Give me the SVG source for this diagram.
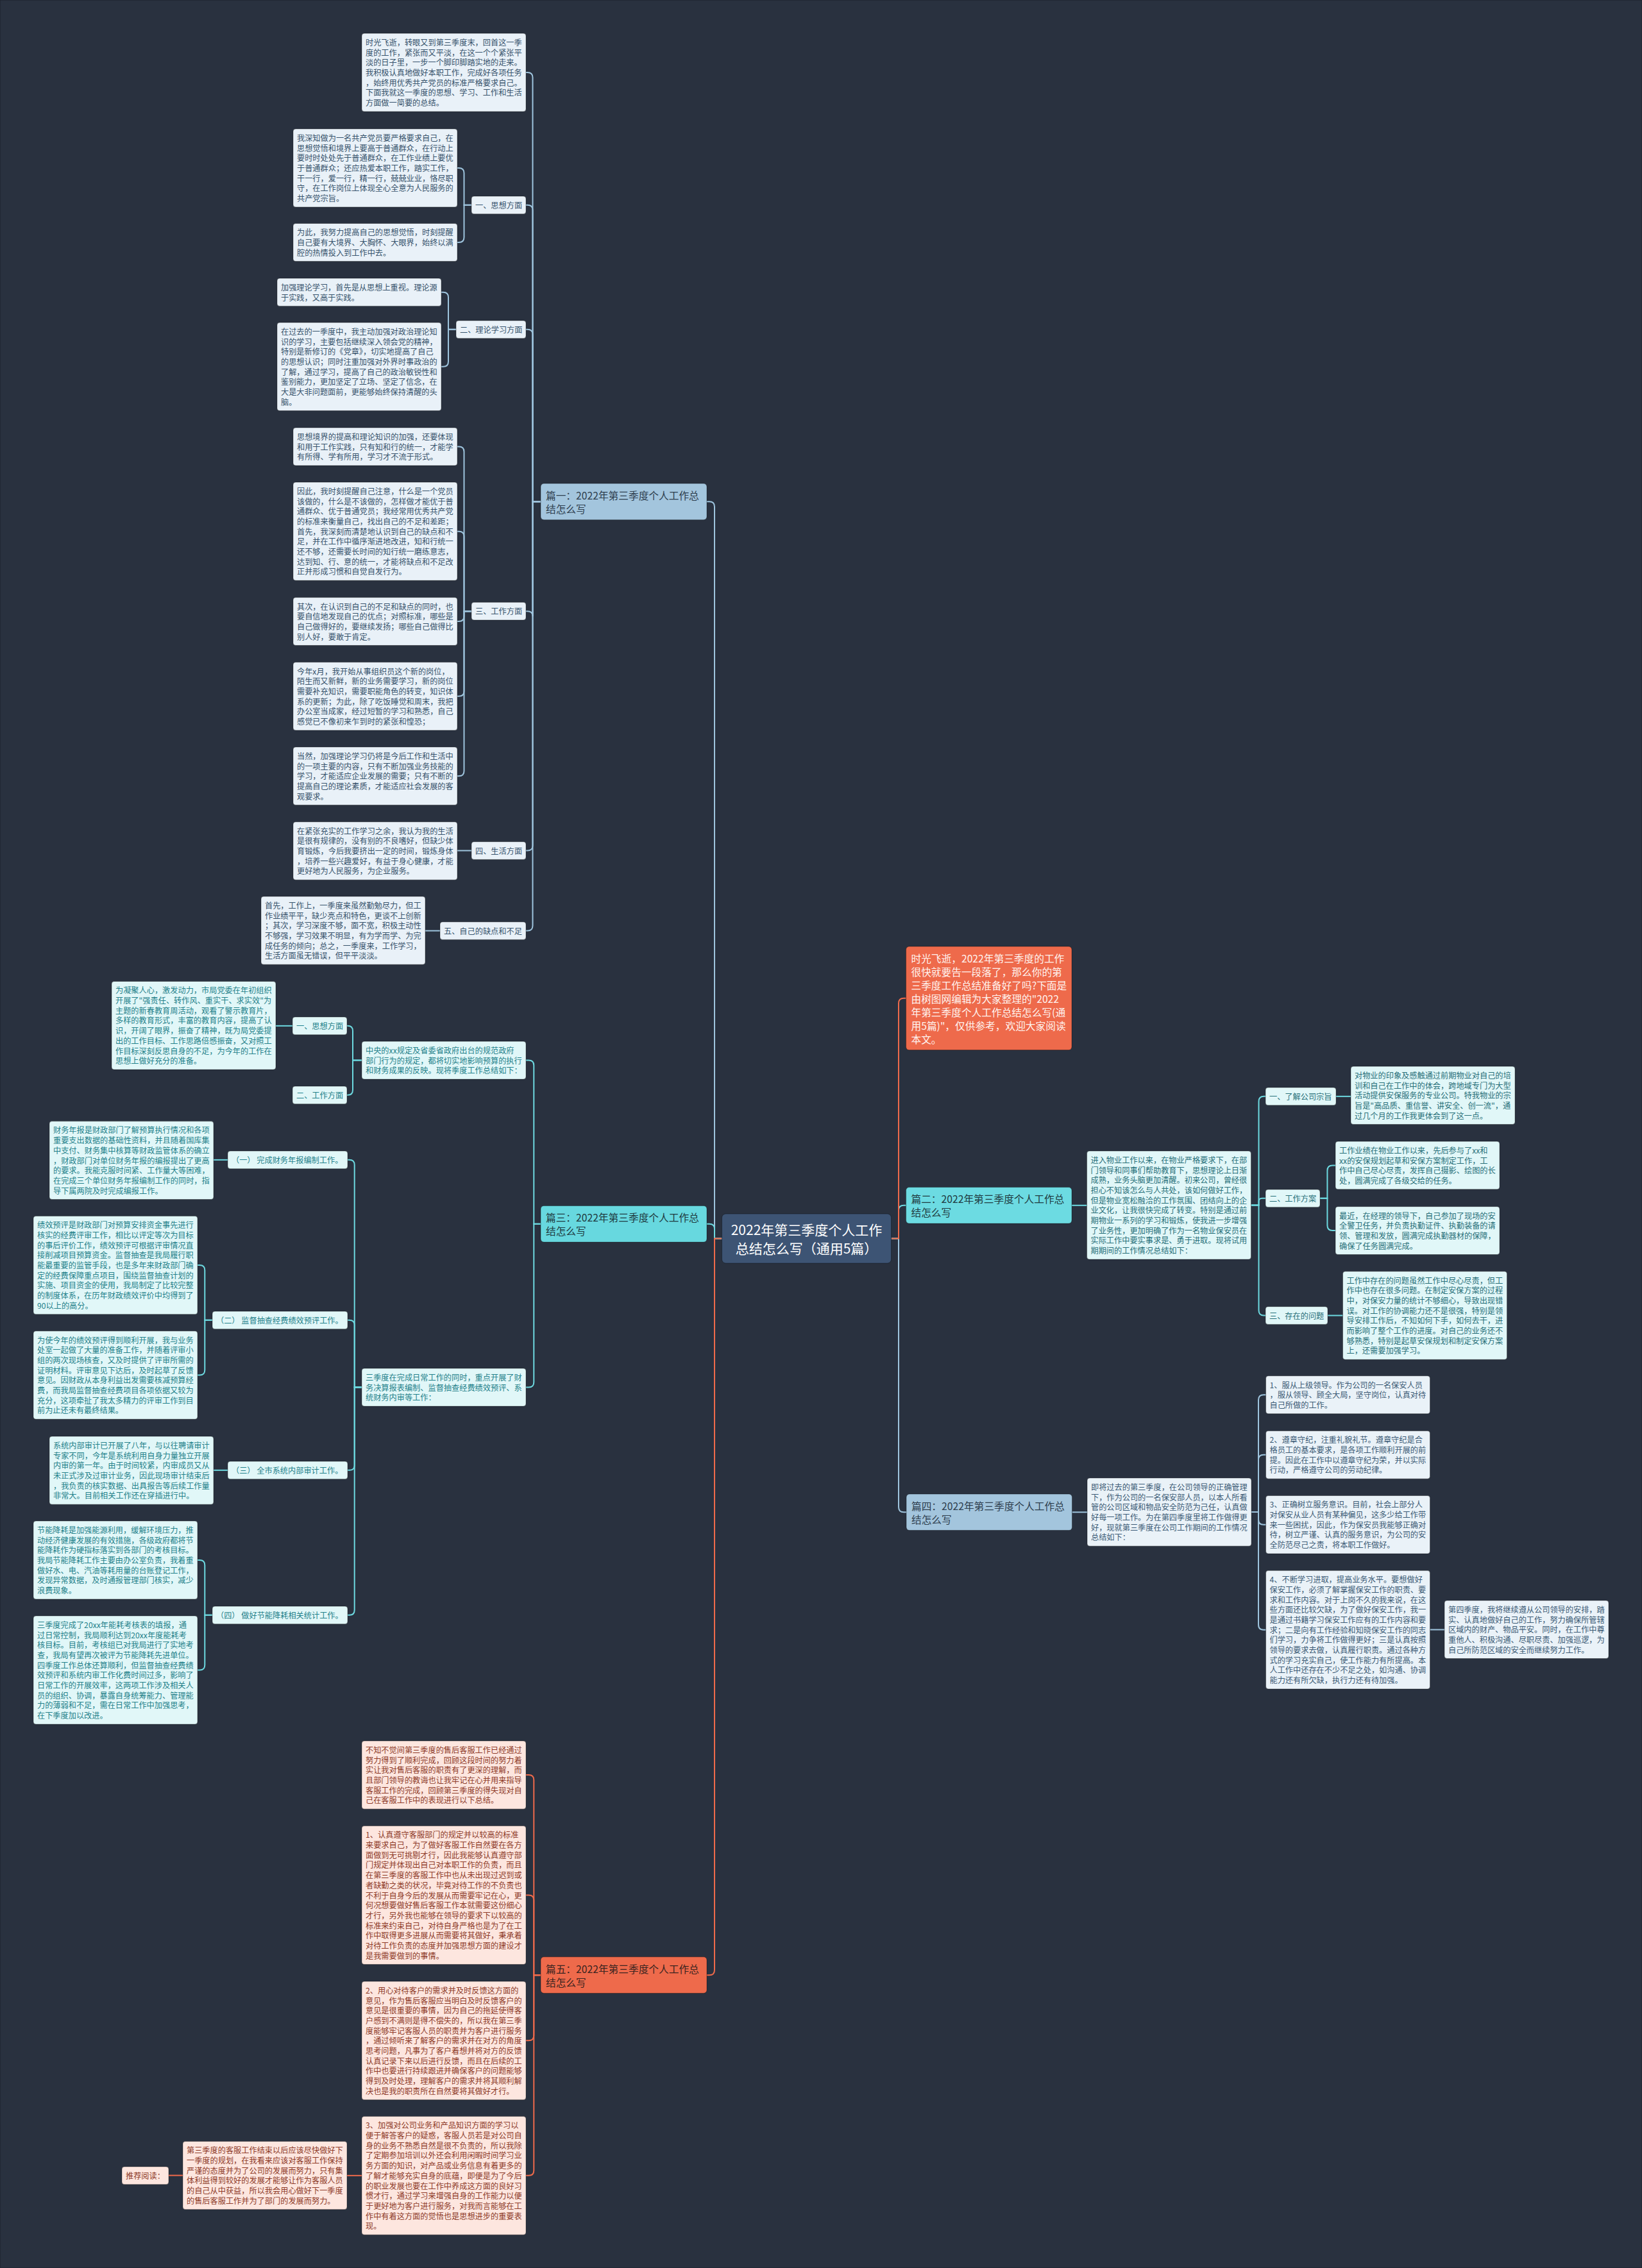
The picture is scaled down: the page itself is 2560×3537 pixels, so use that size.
<svg xmlns="http://www.w3.org/2000/svg" width="2560" height="3537" viewBox="0 0 2560 3537">
<style>
text{font-family:"Noto Sans CJK SC","Liberation Sans",sans-serif;dominant-baseline:central}
.s{font-size:12.2px}
.m{font-size:15.7px}
rect{stroke:rgba(0,0,0,0.35);stroke-width:1}
.b1 rect{fill:#e9f1f8}.b1 text{fill:#36526b}
.b3 rect{fill:#e1f7f8}.b3 text{fill:#23818a}
.b2 rect{fill:#e1f7f8}.b2 text{fill:#276f78}
.b4 rect{fill:#eaf2f8}.b4 text{fill:#3b5a75}
.b5 rect{fill:#fde6df}.b5 text{fill:#8e3a28}
.k{fill:none;stroke-width:2}
.k1{stroke:#9ec4dd}.k3{stroke:#6dd9e0}.k5{stroke:#ee6a4b}
</style>
<rect x="0" y="0" width="2560" height="3537" fill="#29313f" stroke="none"/>

<g id="connectors">
<g class="k k1">
<path d="M1125.5 1931.5 H1114 V790.35 Q1114 782.35 1106 782.35 H1102"/>
<path d="M843 782.35 H830.5 V121 Q830.5 113 822.5 113 H820"/>
<path d="M843 782.35 H830.5 V327.85 Q830.5 319.85 822.5 319.85 H820"/>
<path d="M843 782.35 H830.5 V521.85 Q830.5 513.85 822.5 513.85 H820"/>
<path d="M843 782.35 H830.5 V961.15 Q830.5 953.15 822.5 953.15 H820"/>
<path d="M843 782.35 H830.5 V1318.55 Q830.5 1326.55 822.5 1326.55 H820"/>
<path d="M843 782.35 H830.5 V1443.55 Q830.5 1451.55 822.5 1451.55 H820"/>
<path d="M735 319.85 H723.5 V269.95 Q723.5 261.95 715.5 261.95 H713"/>
<path d="M735 319.85 H723.5 V370.05 Q723.5 378.05 715.5 378.05 H713"/>
<path d="M711 513.85 H699 V463.7 Q699 455.7 691 455.7 H688"/>
<path d="M711 513.85 H699 V563.8 Q699 571.8 691 571.8 H688"/>
<path d="M735 953.15 H723.5 V704.55 Q723.5 696.55 715.5 696.55 H713"/>
<path d="M735 953.15 H723.5 V836.65 Q723.5 828.65 715.5 828.65 H713"/>
<path d="M735 953.15 H723.5 V961.1 Q723.5 969.1 715.5 969.1 H713"/>
<path d="M735 953.15 H723.5 V1077.8 Q723.5 1085.8 715.5 1085.8 H713"/>
<path d="M735 953.15 H723.5 V1202.25 Q723.5 1210.25 715.5 1210.25 H713"/>
<path d="M735 1326.55 H713"/>
<path d="M686 1451.55 H663"/>
<path d="M1389.6 1931.5 H1401 V2350.3 Q1401 2358.3 1409 2358.3 H1413"/>
<path d="M1671.5 2358.3 H1695"/>
<path d="M1951 2358.1 H1962 V2183.25 Q1962 2175.25 1970 2175.25 H1973.5"/>
<path d="M1951 2358.1 H1962 V2276.8 Q1962 2268.8 1970 2268.8 H1973.5"/>
<path d="M1951 2358.1 H1962 V2369.75 Q1962 2377.75 1970 2377.75 H1973.5"/>
<path d="M1951 2358.1 H1962 V2533.65 Q1962 2541.65 1970 2541.65 H1973.5"/>
<path d="M2229.5 2541.5 H2252"/>
</g>
<g class="k k3">
<path d="M1125.5 1931.5 H1114 V1916.75 Q1114 1908.75 1106 1908.75 H1102"/>
<path d="M843 1908.75 H832.3 V1661.55 Q832.3 1653.55 824.3 1653.55 H820"/>
<path d="M843 1908.75 H832.3 V2155.55 Q832.3 2163.55 824.3 2163.55 H820"/>
<path d="M564 1653.55 H550 V1607.85 Q550 1599.85 542 1599.85 H541"/>
<path d="M564 1653.55 H550 V1699.85 Q550 1707.85 542 1707.85 H541"/>
<path d="M456 1599.85 H430"/>
<path d="M564 2163.55 H552.7 V1816.85 Q552.7 1808.85 544.7 1808.85 H542"/>
<path d="M564 2163.55 H552.7 V2066.85 Q552.7 2058.85 544.7 2058.85 H542"/>
<path d="M564 2163.55 H552.7 V2284.85 Q552.7 2292.85 544.7 2292.85 H542"/>
<path d="M564 2163.55 H552.7 V2510.85 Q552.7 2518.85 544.7 2518.85 H542"/>
<path d="M355 1808.85 H333"/>
<path d="M331 2058.85 H319.3 V1981.05 Q319.3 1973.05 311.3 1973.05 H308"/>
<path d="M331 2058.85 H319.3 V2136.5 Q319.3 2144.5 311.3 2144.5 H308"/>
<path d="M355 2292.85 H333"/>
<path d="M331 2518.85 H319.3 V2440.95 Q319.3 2432.95 311.3 2432.95 H308"/>
<path d="M331 2518.85 H319.3 V2596.5 Q319.3 2604.5 311.3 2604.5 H308"/>
<path d="M1389.6 1931.5 H1401 V1887.8 Q1401 1879.8 1409 1879.8 H1412.5"/>
<path d="M1671 1879.8 H1694.5"/>
<path d="M1950.5 1879.5 H1962.5 V1717.85 Q1962.5 1709.85 1970.5 1709.85 H1973"/>
<path d="M1950.5 1879.5 H1962.5 V1873.85 Q1962.5 1868.85 1967.5 1868.85 H1973"/>
<path d="M1950.5 1879.5 H1962.5 V2043.55 Q1962.5 2051.55 1970.5 2051.55 H1973"/>
<path d="M2083 1709.85 H2106"/>
<path d="M2058 1868.85 H2069.4 V1825.4 Q2069.4 1817.4 2077.4 1817.4 H2082"/>
<path d="M2058 1868.85 H2069.4 V1911.1 Q2069.4 1919.1 2077.4 1919.1 H2082"/>
<path d="M2070 2051.55 H2093.5"/>
</g>
<g class="k k5">
<path d="M1125.5 1931.5 H1114 V3072.15 Q1114 3080.15 1106 3080.15 H1102"/>
<path d="M843 3080.15 H832.3 V2776.1 Q832.3 2768.1 824.3 2768.1 H820"/>
<path d="M843 3080.15 H832.3 V2963.55 Q832.3 2955.55 824.3 2955.55 H820"/>
<path d="M843 3080.15 H832.3 V3174.35 Q832.3 3182.35 824.3 3182.35 H820"/>
<path d="M843 3080.15 H832.3 V3384.85 Q832.3 3392.85 824.3 3392.85 H820"/>
<path d="M564 3392.85 H541"/>
<path d="M285 3392.6 H263"/>
<path d="M1389.6 1931.5 H1401 V1564.8 Q1401 1556.8 1409 1556.8 H1412.5"/>
</g>
</g>

<g id="root"><rect x="1125.5" y="1893" width="264" height="77" rx="6" fill="#3d5474"/><text x="1257.5" y="1917" font-size="21" fill="#ffffff" text-anchor="middle"><tspan>2022年第三季度个人工作</tspan><tspan x="1257.5" dy="29">总结怎么写（通用5篇）</tspan></text></g>

<g id="intro"><rect x="1412.5" y="1476" width="258.5" height="161.6" rx="5" fill="#ee6a4b"/><text class="m" x="1420.5" y="1493.8" fill="#fff4f0"><tspan>时光飞逝，2022年第三季度的工作</tspan><tspan x="1420.5" dy="21">很快就要告一段落了，那么你的第</tspan><tspan x="1420.5" dy="21">三季度工作总结准备好了吗?下面是</tspan><tspan x="1420.5" dy="21">由树图网编辑为大家整理的"2022</tspan><tspan x="1420.5" dy="21">年第三季度个人工作总结怎么写(通</tspan><tspan x="1420.5" dy="21">用5篇)"，仅供参考，欢迎大家阅读</tspan><tspan x="1420.5" dy="21">本文。</tspan></text></g>

<g id="p1"><rect x="843" y="754" width="259" height="56.7" rx="5" fill="#a3c5dd"/><text class="m" x="851" y="771.85" fill="#2e3e4e"><tspan>篇一：2022年第三季度个人工作总</tspan><tspan x="851" dy="21">结怎么写</tspan></text></g>
<g id="p2"><rect x="1412.5" y="1851.5" width="258.5" height="56.6" rx="5" fill="#6cdbe2"/><text class="m" x="1420.5" y="1869.3" fill="#1f3a40"><tspan>篇二：2022年第三季度个人工作总</tspan><tspan x="1420.5" dy="21">结怎么写</tspan></text></g>
<g id="p3"><rect x="843" y="1880.4" width="259" height="56.7" rx="5" fill="#67d8df"/><text class="m" x="851" y="1898.2" fill="#1f3a40"><tspan>篇三：2022年第三季度个人工作总</tspan><tspan x="851" dy="21">结怎么写</tspan></text></g>
<g id="p4"><rect x="1413" y="2330" width="258.5" height="56.6" rx="5" fill="#a3c5dd"/><text class="m" x="1421" y="2347.8" fill="#2e3e4e"><tspan>篇四：2022年第三季度个人工作总</tspan><tspan x="1421" dy="21">结怎么写</tspan></text></g>
<g id="p5"><rect x="843" y="3051.8" width="259" height="56.7" rx="5" fill="#ee6a4b"/><text class="m" x="851" y="3069.6" fill="#3a2420"><tspan>篇五：2022年第三季度个人工作总</tspan><tspan x="851" dy="21">结怎么写</tspan></text></g>

<g class="b1">
<g id="a1"><rect x="564" y="52" width="256" height="121.9" rx="4"/><text class="s" x="570" y="65.85"><tspan>时光飞逝，转眼又到第三季度末，回首这一季</tspan><tspan x="570" dy="15.7">度的工作，紧张而又平淡，在这一个个紧张平</tspan><tspan x="570" dy="15.7">淡的日子里，一步一个脚印脚踏实地的走来。</tspan><tspan x="570" dy="15.7">我积极认真地做好本职工作，完成好各项任务</tspan><tspan x="570" dy="15.7">，始终用优秀共产党员的标准严格要求自己。</tspan><tspan x="570" dy="15.7">下面我就这一季度的思想、学习、工作和生活</tspan><tspan x="570" dy="15.7">方面做一简要的总结。</tspan></text></g>
<g id="l1"><rect x="735" y="306" width="85" height="27.7" rx="4"/><text class="s" x="741" y="319.85">一、思想方面</text></g>
<g id="b1n"><rect x="457" y="201" width="256" height="121.9" rx="4"/><text class="s" x="463" y="214.85"><tspan>我深知做为一名共产党员要严格要求自己，在</tspan><tspan x="463" dy="15.7">思想觉悟和境界上要高于普通群众，在行动上</tspan><tspan x="463" dy="15.7">要时时处处先于普通群众，在工作业绩上要优</tspan><tspan x="463" dy="15.7">于普通群众；还应热爱本职工作，踏实工作，</tspan><tspan x="463" dy="15.7">干一行，爱一行，精一行，兢兢业业，恪尽职</tspan><tspan x="463" dy="15.7">守，在工作岗位上体现全心全意为人民服务的</tspan><tspan x="463" dy="15.7">共产党宗旨。</tspan></text></g>
<g id="c1n"><rect x="457" y="348.5" width="256" height="59.1" rx="4"/><text class="s" x="463" y="362.35"><tspan>为此，我努力提高自己的思想觉悟，时刻提醒</tspan><tspan x="463" dy="15.7">自己要有大境界、大胸怀、大眼界，始终以满</tspan><tspan x="463" dy="15.7">腔的热情投入到工作中去。</tspan></text></g>
<g id="d1n"><rect x="432" y="434" width="256" height="43.4" rx="4"/><text class="s" x="438" y="447.85"><tspan>加强理论学习，首先是从思想上重视。理论源</tspan><tspan x="438" dy="15.7">于实践，又高于实践。</tspan></text></g>
<g id="l2"><rect x="711" y="500" width="109" height="27.7" rx="4"/><text class="s" x="717" y="513.85">二、理论学习方面</text></g>
<g id="e1n"><rect x="432" y="503" width="256" height="137.6" rx="4"/><text class="s" x="438" y="516.85"><tspan>在过去的一季度中，我主动加强对政治理论知</tspan><tspan x="438" dy="15.7">识的学习，主要包括继续深入领会党的精神，</tspan><tspan x="438" dy="15.7">特别是新修订的《党章》，切实地提高了自己</tspan><tspan x="438" dy="15.7">的思想认识；同时注重加强对外界时事政治的</tspan><tspan x="438" dy="15.7">了解，通过学习，提高了自己的政治敏锐性和</tspan><tspan x="438" dy="15.7">鉴别能力，更加坚定了立场、坚定了信念，在</tspan><tspan x="438" dy="15.7">大是大非问题面前，更能够始终保持清醒的头</tspan><tspan x="438" dy="15.7">脑。</tspan></text></g>
<g id="f1n"><rect x="457" y="667" width="256" height="59.1" rx="4"/><text class="s" x="463" y="680.85"><tspan>思想境界的提高和理论知识的加强，还要体现</tspan><tspan x="463" dy="15.7">和用于工作实践，只有知和行的统一，才能学</tspan><tspan x="463" dy="15.7">有所得、学有所用，学习才不流于形式。</tspan></text></g>
<g id="g1n"><rect x="457" y="752" width="256" height="153.3" rx="4"/><text class="s" x="463" y="765.85"><tspan>因此，我时刻提醒自己注意，什么是一个党员</tspan><tspan x="463" dy="15.7">该做的，什么是不该做的，怎样做才能优于普</tspan><tspan x="463" dy="15.7">通群众、优于普通党员；我经常用优秀共产党</tspan><tspan x="463" dy="15.7">的标准来衡量自己，找出自己的不足和差距；</tspan><tspan x="463" dy="15.7">首先，我深刻而清楚地认识到自己的缺点和不</tspan><tspan x="463" dy="15.7">足，并在工作中循序渐进地改进，知和行统一</tspan><tspan x="463" dy="15.7">还不够，还需要长时间的知行统一磨练意志，</tspan><tspan x="463" dy="15.7">达到知、行、意的统一，才能将缺点和不足改</tspan><tspan x="463" dy="15.7">正并形成习惯和自觉自发行为。</tspan></text></g>
<g id="l3"><rect x="735" y="939.3" width="85" height="27.7" rx="4"/><text class="s" x="741" y="953.15">三、工作方面</text></g>
<g id="h1n"><rect x="457" y="931.7" width="256" height="74.8" rx="4"/><text class="s" x="463" y="945.55"><tspan>其次，在认识到自己的不足和缺点的同时，也</tspan><tspan x="463" dy="15.7">要自信地发现自己的优点；对照标准，哪些是</tspan><tspan x="463" dy="15.7">自己做得好的，要继续发扬；哪些自己做得比</tspan><tspan x="463" dy="15.7">别人好，要敢于肯定。</tspan></text></g>
<g id="i1n"><rect x="457" y="1032.7" width="256" height="106.2" rx="4"/><text class="s" x="463" y="1046.55"><tspan>今年x月，我开始从事组织员这个新的岗位，</tspan><tspan x="463" dy="15.7">陌生而又新鲜，新的业务需要学习，新的岗位</tspan><tspan x="463" dy="15.7">需要补充知识，需要职能角色的转变，知识体</tspan><tspan x="463" dy="15.7">系的更新；为此，除了吃饭睡觉和周末，我把</tspan><tspan x="463" dy="15.7">办公室当成家，经过短暂的学习和熟悉，自己</tspan><tspan x="463" dy="15.7">感觉已不像初来乍到时的紧张和惶恐；</tspan></text></g>
<g id="j1n"><rect x="457" y="1165" width="256" height="90.5" rx="4"/><text class="s" x="463" y="1178.85"><tspan>当然，加强理论学习仍将是今后工作和生活中</tspan><tspan x="463" dy="15.7">的一项主要的内容，只有不断加强业务技能的</tspan><tspan x="463" dy="15.7">学习，才能适应企业发展的需要；只有不断的</tspan><tspan x="463" dy="15.7">提高自己的理论素质，才能适应社会发展的客</tspan><tspan x="463" dy="15.7">观要求。</tspan></text></g>
<g id="l4"><rect x="735" y="1312.7" width="85" height="27.7" rx="4"/><text class="s" x="741" y="1326.55">四、生活方面</text></g>
<g id="k1n"><rect x="457" y="1281.7" width="256" height="90.5" rx="4"/><text class="s" x="463" y="1295.55"><tspan>在紧张充实的工作学习之余，我认为我的生活</tspan><tspan x="463" dy="15.7">是很有规律的，没有别的不良嗜好，但缺少体</tspan><tspan x="463" dy="15.7">育锻炼，今后我要挤出一定的时间，锻炼身体</tspan><tspan x="463" dy="15.7">，培养一些兴趣爱好，有益于身心健康，才能</tspan><tspan x="463" dy="15.7">更好地为人民服务，为企业服务。</tspan></text></g>
<g id="l5"><rect x="686" y="1437.7" width="134" height="27.7" rx="4"/><text class="s" x="692" y="1451.55">五、自己的缺点和不足</text></g>
<g id="m1n"><rect x="407" y="1398" width="256" height="106.2" rx="4"/><text class="s" x="413" y="1411.85"><tspan>首先，工作上，一季度来虽然勤勉尽力，但工</tspan><tspan x="413" dy="15.7">作业绩平平，缺少亮点和特色，更谈不上创新</tspan><tspan x="413" dy="15.7">；其次，学习深度不够，面不宽，积极主动性</tspan><tspan x="413" dy="15.7">不够强，学习效果不明显，有为学而学、为完</tspan><tspan x="413" dy="15.7">成任务的倾向；总之，一季度来，工作学习，</tspan><tspan x="413" dy="15.7">生活方面虽无错误，但平平淡淡。</tspan></text></g>
</g>

<g class="b3">
<g id="n3"><rect x="564" y="1624" width="256" height="59.1" rx="4"/><text class="s" x="570" y="1637.85"><tspan>中央的xx规定及省委省政府出台的规范政府</tspan><tspan x="570" dy="15.7">部门行为的规定，都将切实地影响预算的执行</tspan><tspan x="570" dy="15.7">和财务成果的反映。现将季度工作总结如下：</tspan></text></g>
<g id="q3"><rect x="564" y="2134" width="256" height="59.1" rx="4"/><text class="s" x="570" y="2147.85"><tspan>三季度在完成日常工作的同时，重点开展了财</tspan><tspan x="570" dy="15.7">务决算报表编制、监督抽查经费绩效预评、系</tspan><tspan x="570" dy="15.7">统财务内审等工作：</tspan></text></g>
<g id="m3l"><rect x="456" y="1586" width="85" height="27.7" rx="4"/><text class="s" x="462" y="1599.85">一、思想方面</text></g>
<g id="m3"><rect x="174" y="1530.5" width="256" height="137.6" rx="4"/><text class="s" x="180" y="1544.35"><tspan>为凝聚人心，激发动力，市局党委在年初组织</tspan><tspan x="180" dy="15.7">开展了"强责任、转作风、重实干、求实效"为</tspan><tspan x="180" dy="15.7">主题的新春教育周活动，观看了警示教育片，</tspan><tspan x="180" dy="15.7">多样的教育形式，丰富的教育内容，提高了认</tspan><tspan x="180" dy="15.7">识，开阔了眼界，振奋了精神，既为局党委提</tspan><tspan x="180" dy="15.7">出的工作目标、工作思路倍感振奋，又对照工</tspan><tspan x="180" dy="15.7">作目标深刻反思自身的不足，为今年的工作在</tspan><tspan x="180" dy="15.7">思想上做好充分的准备。</tspan></text></g>
<g id="m4l"><rect x="456" y="1694" width="85" height="27.7" rx="4"/><text class="s" x="462" y="1707.85">二、工作方面</text></g>
<g id="y1"><rect x="355" y="1795" width="187" height="27.7" rx="4"/><text class="s" x="361" y="1808.85">（一） 完成财务年报编制工作。</text></g>
<g id="fin1"><rect x="77" y="1748.6" width="256" height="121.9" rx="4"/><text class="s" x="83" y="1762.45"><tspan>财务年报是财政部门了解预算执行情况和各项</tspan><tspan x="83" dy="15.7">重要支出数据的基础性资料，并且随着国库集</tspan><tspan x="83" dy="15.7">中支付、财务集中核算等财政监管体系的确立</tspan><tspan x="83" dy="15.7">，财政部门对单位财务年报的编报提出了更高</tspan><tspan x="83" dy="15.7">的要求。我能克服时间紧、工作量大等困难，</tspan><tspan x="83" dy="15.7">在完成三个单位财务年报编制工作的同时，指</tspan><tspan x="83" dy="15.7">导下属两院及时完成编报工作。</tspan></text></g>
<g id="y2"><rect x="331" y="2045" width="211" height="27.7" rx="4"/><text class="s" x="337" y="2058.85">（二） 监督抽查经费绩效预评工作。</text></g>
<g id="fin2"><rect x="52" y="1896.4" width="256" height="153.3" rx="4"/><text class="s" x="58" y="1910.25"><tspan>绩效预评是财政部门对预算安排资金事先进行</tspan><tspan x="58" dy="15.7">核实的经费评审工作，相比以评定等次为目标</tspan><tspan x="58" dy="15.7">的事后评价工作，绩效预评可根据评审情况直</tspan><tspan x="58" dy="15.7">接削减项目预算资金。监督抽查是我局履行职</tspan><tspan x="58" dy="15.7">能最重要的监管手段，也是多年来财政部门确</tspan><tspan x="58" dy="15.7">定的经费保障重点项目，围绕监督抽查计划的</tspan><tspan x="58" dy="15.7">实施、项目资金的使用，我局制定了比较完整</tspan><tspan x="58" dy="15.7">的制度体系，在历年财政绩效评价中均得到了</tspan><tspan x="58" dy="15.7">90以上的高分。</tspan></text></g>
<g id="fin3"><rect x="52" y="2075.7" width="256" height="137.6" rx="4"/><text class="s" x="58" y="2089.55"><tspan>为使今年的绩效预评得到顺利开展，我与业务</tspan><tspan x="58" dy="15.7">处室一起做了大量的准备工作，并随着评审小</tspan><tspan x="58" dy="15.7">组的两次现场核查，又及时提供了评审所需的</tspan><tspan x="58" dy="15.7">证明材料。评审意见下达后，及时起草了反馈</tspan><tspan x="58" dy="15.7">意见。因财政从本身利益出发需要核减预算经</tspan><tspan x="58" dy="15.7">费，而我局监督抽查经费项目各项依据又较为</tspan><tspan x="58" dy="15.7">充分，这项牵扯了我太多精力的评审工作到目</tspan><tspan x="58" dy="15.7">前为止还未有最终结果。</tspan></text></g>
<g id="y3"><rect x="355" y="2279" width="187" height="27.7" rx="4"/><text class="s" x="361" y="2292.85">（三） 全市系统内部审计工作。</text></g>
<g id="fin4"><rect x="77" y="2240" width="256" height="106.2" rx="4"/><text class="s" x="83" y="2253.85"><tspan>系统内部审计已开展了八年，与以往聘请审计</tspan><tspan x="83" dy="15.7">专家不同，今年是系统利用自身力量独立开展</tspan><tspan x="83" dy="15.7">内审的第一年。由于时间较紧，内审成员又从</tspan><tspan x="83" dy="15.7">未正式涉及过审计业务，因此现场审计结束后</tspan><tspan x="83" dy="15.7">，我负责的核实数据、出具报告等后续工作量</tspan><tspan x="83" dy="15.7">非常大。目前相关工作还在穿插进行中。</tspan></text></g>
<g id="y4"><rect x="331" y="2505" width="211" height="27.7" rx="4"/><text class="s" x="337" y="2518.85">（四） 做好节能降耗相关统计工作。</text></g>
<g id="fin5"><rect x="52" y="2372" width="256" height="121.9" rx="4"/><text class="s" x="58" y="2385.85"><tspan>节能降耗是加强能源利用，缓解环境压力，推</tspan><tspan x="58" dy="15.7">动经济健康发展的有效措施，各级政府都将节</tspan><tspan x="58" dy="15.7">能降耗作为硬指标落实到各部门的考核目标。</tspan><tspan x="58" dy="15.7">我局节能降耗工作主要由办公室负责，我着重</tspan><tspan x="58" dy="15.7">做好水、电、汽油等耗用量的台账登记工作，</tspan><tspan x="58" dy="15.7">发现异常数据，及时通报管理部门核实，减少</tspan><tspan x="58" dy="15.7">浪费现象。</tspan></text></g>
<g id="fin6"><rect x="52" y="2520" width="256" height="169" rx="4"/><text class="s" x="58" y="2533.85"><tspan>三季度完成了20xx年能耗考核表的填报，通</tspan><tspan x="58" dy="15.7">过日常控制，我局顺利达到20xx年度能耗考</tspan><tspan x="58" dy="15.7">核目标。目前，考核组已对我局进行了实地考</tspan><tspan x="58" dy="15.7">查，我局有望再次被评为节能降耗先进单位。</tspan><tspan x="58" dy="15.7">四季度工作总体还算顺利，但监督抽查经费绩</tspan><tspan x="58" dy="15.7">效预评和系统内审工作化费时间过多，影响了</tspan><tspan x="58" dy="15.7">日常工作的开展效率，这两项工作涉及相关人</tspan><tspan x="58" dy="15.7">员的组织、协调，暴露自身统筹能力、管理能</tspan><tspan x="58" dy="15.7">力的薄弱和不足，需在日常工作中加强思考，</tspan><tspan x="58" dy="15.7">在下季度加以改进。</tspan></text></g>
</g>

<g class="b5">
<g id="r1"><rect x="564" y="2715" width="256" height="106.2" rx="4"/><text class="s" x="570" y="2728.85"><tspan>不知不觉间第三季度的售后客服工作已经通过</tspan><tspan x="570" dy="15.7">努力得到了顺利完成，回顾这段时间的努力着</tspan><tspan x="570" dy="15.7">实让我对售后客服的职责有了更深的理解，而</tspan><tspan x="570" dy="15.7">且部门领导的教诲也让我牢记在心并用来指导</tspan><tspan x="570" dy="15.7">客服工作的完成，回顾第三季度的得失现对自</tspan><tspan x="570" dy="15.7">己在客服工作中的表现进行以下总结。</tspan></text></g>
<g id="r2"><rect x="564" y="2847.5" width="256" height="216.1" rx="4"/><text class="s" x="570" y="2861.35"><tspan>1、认真遵守客服部门的规定并以较高的标准</tspan><tspan x="570" dy="15.7">来要求自己，为了做好客服工作自然要在各方</tspan><tspan x="570" dy="15.7">面做到无可挑剔才行，因此我能够认真遵守部</tspan><tspan x="570" dy="15.7">门规定并体现出自己对本职工作的负责，而且</tspan><tspan x="570" dy="15.7">在第三季度的客服工作中也从未出现过迟到或</tspan><tspan x="570" dy="15.7">者缺勤之类的状况，毕竟对待工作的不负责也</tspan><tspan x="570" dy="15.7">不利于自身今后的发展从而需要牢记在心，更</tspan><tspan x="570" dy="15.7">何况想要做好售后客服工作本就需要这份细心</tspan><tspan x="570" dy="15.7">才行，另外我也能够在领导的要求下以较高的</tspan><tspan x="570" dy="15.7">标准来约束自己，对待自身严格也是为了在工</tspan><tspan x="570" dy="15.7">作中取得更多进展从而需要将其做好，秉承着</tspan><tspan x="570" dy="15.7">对待工作负责的态度并加强思想方面的建设才</tspan><tspan x="570" dy="15.7">是我需要做到的事情。</tspan></text></g>
<g id="r3"><rect x="564" y="3090" width="256" height="184.7" rx="4"/><text class="s" x="570" y="3103.85"><tspan>2、用心对待客户的需求并及时反馈这方面的</tspan><tspan x="570" dy="15.7">意见，作为售后客服应当明白及时反馈客户的</tspan><tspan x="570" dy="15.7">意见是很重要的事情，因为自己的拖延使得客</tspan><tspan x="570" dy="15.7">户感到不满则是得不偿失的，所以我在第三季</tspan><tspan x="570" dy="15.7">度能够牢记客服人员的职责并为客户进行服务</tspan><tspan x="570" dy="15.7">，通过倾听来了解客户的需求并在对方的角度</tspan><tspan x="570" dy="15.7">思考问题，凡事为了客户着想并将对方的反馈</tspan><tspan x="570" dy="15.7">认真记录下来以后进行反馈，而且在后续的工</tspan><tspan x="570" dy="15.7">作中也要进行持续跟进并确保客户的问题能够</tspan><tspan x="570" dy="15.7">得到及时处理，理解客户的需求并将其顺利解</tspan><tspan x="570" dy="15.7">决也是我的职责所在自然要将其做好才行。</tspan></text></g>
<g id="r4"><rect x="564" y="3300.5" width="256" height="184.7" rx="4"/><text class="s" x="570" y="3314.35"><tspan>3、加强对公司业务和产品知识方面的学习以</tspan><tspan x="570" dy="15.7">便于解答客户的疑惑，客服人员若是对公司自</tspan><tspan x="570" dy="15.7">身的业务不熟悉自然是很不负责的，所以我除</tspan><tspan x="570" dy="15.7">了定期参加培训以外还会利用闲暇时间学习业</tspan><tspan x="570" dy="15.7">务方面的知识，对产品或业务信息有着更多的</tspan><tspan x="570" dy="15.7">了解才能够充实自身的底蕴，即便是为了今后</tspan><tspan x="570" dy="15.7">的职业发展也要在工作中养成这方面的良好习</tspan><tspan x="570" dy="15.7">惯才行，通过学习来增强自身的工作能力以便</tspan><tspan x="570" dy="15.7">于更好地为客户进行服务，对我而言能够在工</tspan><tspan x="570" dy="15.7">作中有着这方面的觉悟也是思想进步的重要表</tspan><tspan x="570" dy="15.7">现。</tspan></text></g>
<g id="r5"><rect x="285" y="3339.5" width="256" height="106.2" rx="4"/><text class="s" x="291" y="3353.35"><tspan>第三季度的客服工作结束以后应该尽快做好下</tspan><tspan x="291" dy="15.7">一季度的规划，在我看来应该对客服工作保持</tspan><tspan x="291" dy="15.7">严谨的态度并为了公司的发展而努力，只有集</tspan><tspan x="291" dy="15.7">体利益得到较好的发展才能够让作为客服人员</tspan><tspan x="291" dy="15.7">的自己从中获益，所以我会用心做好下一季度</tspan><tspan x="291" dy="15.7">的售后客服工作并为了部门的发展而努力。</tspan></text></g>
<g id="r6"><rect x="190" y="3379" width="73" height="27.7" rx="4"/><text class="s" x="196" y="3392.85">推荐阅读：</text></g>
</g>

<g class="b2">
<g id="s2"><rect x="1694.5" y="1795" width="256" height="169" rx="4"/><text class="s" x="1700.5" y="1808.85"><tspan>进入物业工作以来，在物业严格要求下，在部</tspan><tspan x="1700.5" dy="15.7">门领导和同事们帮助教育下，思想理论上日渐</tspan><tspan x="1700.5" dy="15.7">成熟，业务头脑更加清醒。初来公司，曾经很</tspan><tspan x="1700.5" dy="15.7">担心不知该怎么与人共处，该如何做好工作，</tspan><tspan x="1700.5" dy="15.7">但是物业宽松融洽的工作氛围、团结向上的企</tspan><tspan x="1700.5" dy="15.7">业文化，让我很快完成了转变。特别是通过前</tspan><tspan x="1700.5" dy="15.7">期物业一系列的学习和锻炼，使我进一步增强</tspan><tspan x="1700.5" dy="15.7">了业务性，更加明确了作为一名物业保安员在</tspan><tspan x="1700.5" dy="15.7">实际工作中要实事求是、勇于进取。现将试用</tspan><tspan x="1700.5" dy="15.7">期期间的工作情况总结如下：</tspan></text></g>
<g id="t1"><rect x="1973" y="1696" width="110" height="27.7" rx="4"/><text class="s" x="1979" y="1709.85">一、了解公司宗旨</text></g>
<g id="u1"><rect x="2106" y="1663" width="256" height="90.5" rx="4"/><text class="s" x="2112" y="1676.85"><tspan>对物业的印象及感触通过前期物业对自己的培</tspan><tspan x="2112" dy="15.7">训和自己在工作中的体会，跨地域专门为大型</tspan><tspan x="2112" dy="15.7">活动提供安保服务的专业公司。特我物业的宗</tspan><tspan x="2112" dy="15.7">旨是"高品质、重信誉、讲安全、创一流"，通</tspan><tspan x="2112" dy="15.7">过几个月的工作我更体会到了这一点。</tspan></text></g>
<g id="t2"><rect x="1973" y="1855" width="85" height="27.7" rx="4"/><text class="s" x="1979" y="1868.85">二、工作方案</text></g>
<g id="u2"><rect x="2082" y="1780" width="256" height="74.8" rx="4"/><text class="s" x="2088" y="1793.85"><tspan>工作业绩在物业工作以来，先后参与了xx和</tspan><tspan x="2088" dy="15.7">xx的安保规划起草和安保方案制定工作，工</tspan><tspan x="2088" dy="15.7">作中自己尽心尽责，发挥自己摄影、绘图的长</tspan><tspan x="2088" dy="15.7">处，圆满完成了各级交给的任务。</tspan></text></g>
<g id="u3"><rect x="2082" y="1881.7" width="256" height="74.8" rx="4"/><text class="s" x="2088" y="1895.55"><tspan>最近，在经理的领导下，自己参加了现场的安</tspan><tspan x="2088" dy="15.7">全警卫任务，并负责执勤证件、执勤装备的请</tspan><tspan x="2088" dy="15.7">领、管理和发放，圆满完成执勤器材的保障，</tspan><tspan x="2088" dy="15.7">确保了任务圆满完成。</tspan></text></g>
<g id="t3"><rect x="1973" y="2037.7" width="97" height="27.7" rx="4"/><text class="s" x="1979" y="2051.55">三、存在的问题</text></g>
<g id="u4"><rect x="2093.5" y="1982.7" width="256" height="137.6" rx="4"/><text class="s" x="2099.5" y="1996.55"><tspan>工作中存在的问题虽然工作中尽心尽责，但工</tspan><tspan x="2099.5" dy="15.7">作中也存在很多问题。在制定安保方案的过程</tspan><tspan x="2099.5" dy="15.7">中，对保安力量的统计不够细心，导致出现错</tspan><tspan x="2099.5" dy="15.7">误。对工作的协调能力还不是很强，特别是领</tspan><tspan x="2099.5" dy="15.7">导安排工作后，不知如何下手，如何去干，进</tspan><tspan x="2099.5" dy="15.7">而影响了整个工作的进度。对自己的业务还不</tspan><tspan x="2099.5" dy="15.7">够熟悉，特别是起草安保规划和制定安保方案</tspan><tspan x="2099.5" dy="15.7">上，还需要加强学习。</tspan></text></g>
</g>

<g class="b4">
<g id="v4"><rect x="1695" y="2305" width="256" height="106.2" rx="4"/><text class="s" x="1701" y="2318.85"><tspan>即将过去的第三季度，在公司领导的正确管理</tspan><tspan x="1701" dy="15.7">下，作为公司的一名保安部人员，以本人所看</tspan><tspan x="1701" dy="15.7">管的公司区域和物品安全防范为己任，认真做</tspan><tspan x="1701" dy="15.7">好每一项工作。为在第四季度里将工作做得更</tspan><tspan x="1701" dy="15.7">好，现就第三季度在公司工作期间的工作情况</tspan><tspan x="1701" dy="15.7">总结如下：</tspan></text></g>
<g id="w1"><rect x="1973.5" y="2145.7" width="256" height="59.1" rx="4"/><text class="s" x="1979.5" y="2159.55"><tspan>1、服从上级领导。作为公司的一名保安人员</tspan><tspan x="1979.5" dy="15.7">，服从领导、顾全大局，坚守岗位，认真对待</tspan><tspan x="1979.5" dy="15.7">自己所做的工作。</tspan></text></g>
<g id="w2"><rect x="1973.5" y="2231.4" width="256" height="74.8" rx="4"/><text class="s" x="1979.5" y="2245.25"><tspan>2、遵章守纪，注重礼貌礼节。遵章守纪是合</tspan><tspan x="1979.5" dy="15.7">格员工的基本要求，是各项工作顺利开展的前</tspan><tspan x="1979.5" dy="15.7">提。因此在工作中以遵章守纪为荣，并以实际</tspan><tspan x="1979.5" dy="15.7">行动，严格遵守公司的劳动纪律。</tspan></text></g>
<g id="w3"><rect x="1973.5" y="2332.5" width="256" height="90.5" rx="4"/><text class="s" x="1979.5" y="2346.35"><tspan>3、正确树立服务意识。目前，社会上部分人</tspan><tspan x="1979.5" dy="15.7">对保安从业人员有某种偏见，这多少给工作带</tspan><tspan x="1979.5" dy="15.7">来一些困扰，因此，作为保安员我能够正确对</tspan><tspan x="1979.5" dy="15.7">待，树立严谨、认真的服务意识，为公司的安</tspan><tspan x="1979.5" dy="15.7">全防范尽己之责，将本职工作做好。</tspan></text></g>
<g id="w4"><rect x="1973.5" y="2449.3" width="256" height="184.7" rx="4"/><text class="s" x="1979.5" y="2463.15"><tspan>4、不断学习进取，提高业务水平。要想做好</tspan><tspan x="1979.5" dy="15.7">保安工作，必须了解掌握保安工作的职责、要</tspan><tspan x="1979.5" dy="15.7">求和工作内容。对于上岗不久的我来说，在这</tspan><tspan x="1979.5" dy="15.7">些方面还比较欠缺，为了做好保安工作，我一</tspan><tspan x="1979.5" dy="15.7">是通过书籍学习保安工作应有的工作内容和要</tspan><tspan x="1979.5" dy="15.7">求；二是向有工作经验和知晓保安工作的同志</tspan><tspan x="1979.5" dy="15.7">们学习，力争将工作做得更好；三是认真按照</tspan><tspan x="1979.5" dy="15.7">领导的要求去做，认真履行职责。通过各种方</tspan><tspan x="1979.5" dy="15.7">式的学习充实自己，使工作能力有所提高。本</tspan><tspan x="1979.5" dy="15.7">人工作中还存在不少不足之处，如沟通、协调</tspan><tspan x="1979.5" dy="15.7">能力还有所欠缺，执行力还有待加强。</tspan></text></g>
<g id="w5"><rect x="2252" y="2496" width="256" height="90.5" rx="4"/><text class="s" x="2258" y="2509.85"><tspan>第四季度，我将继续遵从公司领导的安排，踏</tspan><tspan x="2258" dy="15.7">实、认真地做好自己的工作，努力确保所管辖</tspan><tspan x="2258" dy="15.7">区域内的财产、物品平安。同时，在工作中尊</tspan><tspan x="2258" dy="15.7">重他人、积极沟通、尽职尽责、加强巡逻，为</tspan><tspan x="2258" dy="15.7">自己所防范区域的安全而继续努力工作。</tspan></text></g>
</g>
</svg>
